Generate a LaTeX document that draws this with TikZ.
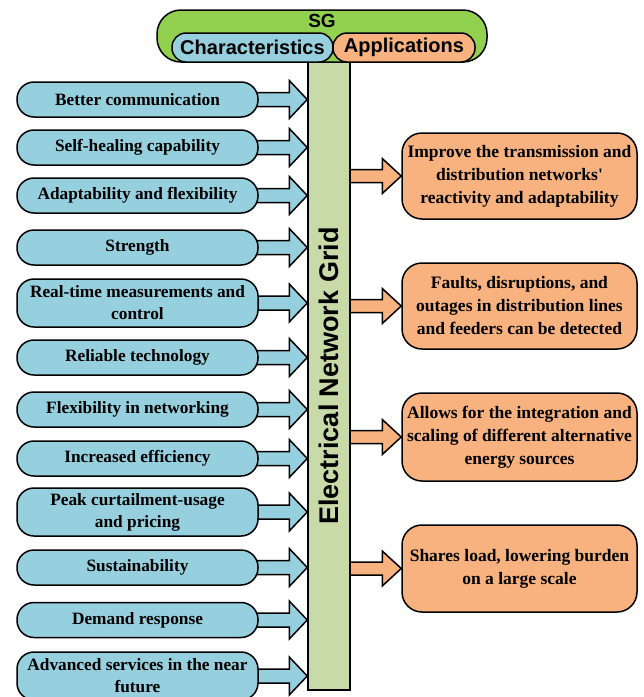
\documentclass[tikz,border=0pt]{standalone}
\usepackage{fontspec}
\setmainfont{Liberation Serif}
\setsansfont{Liberation Sans}
\usetikzlibrary{calc}
\pgfdeclarelayer{bg}
\pgfsetlayers{bg,main}
\definecolor{cblue}{HTML}{96CFDD}
\definecolor{corange}{HTML}{F7B27F}
\definecolor{cgreen}{HTML}{92D050}
\definecolor{cgrid}{HTML}{C8DAA8}
\begin{document}
\begin{tikzpicture}[x=1pt,y=-1pt,line width=1.5pt,
  lpill/.style={draw, fill=cblue, rounded corners=17pt, minimum width=241pt, inner sep=0pt, align=center,
    font=\bfseries\fontsize{17.3}{22}\selectfont},
  rbox/.style={draw, fill=corange, rounded corners=20pt, minimum width=235pt, inner sep=0pt, align=center,
    font=\bfseries\fontsize{17.5}{23}\selectfont},
  toppill/.style={draw, rounded corners=14pt, minimum height=29pt, inner sep=0pt,
    font=\sffamily\bfseries\fontsize{20}{20}\selectfont},
  larrow/.style={draw=black, line width=1.5pt, fill=cblue, line join=miter, to path={
    ($(\tikztostart)+(0,-7)$) -- ($(\tikztotarget)+(-18,-7)$) -- ($(\tikztotarget)+(-18,-19)$) --
    (\tikztotarget) -- ($(\tikztotarget)+(-18,19)$) -- ($(\tikztotarget)+(-18,7)$) --
    ($(\tikztostart)+(0,7)$) -- cycle}},
  rarrow/.style={draw=black, line width=1.5pt, fill=corange, line join=miter, to path={
    ($(\tikztostart)+(0,-6.5)$) -- ($(\tikztotarget)+(-19,-6.5)$) -- ($(\tikztotarget)+(-19,-17.5)$) --
    (\tikztotarget) -- ($(\tikztotarget)+(-19,17.5)$) -- ($(\tikztotarget)+(-19,6.5)$) --
    ($(\tikztostart)+(0,6.5)$) -- cycle}}
]
\useasboundingbox (0,0) rectangle (644,697);

% central grid
\node[draw, fill=cgrid, minimum width=42pt, minimum height=628pt, inner sep=0pt] (g) at (329,376) {};
\node[rotate=90, font=\sffamily\bfseries\fontsize{27}{27}\selectfont] (gtxt) at (g.center) {Electrical Network Grid};

% top title
\node[draw, fill=cgreen, rounded corners=24pt, minimum width=330pt, minimum height=52pt, inner sep=0pt] (sg) at (322,36) {};
\node[font=\sffamily\bfseries\fontsize{19}{20}\selectfont, inner sep=0pt] (sgt) at (322,21) {SG};
\node[toppill, fill=cblue, minimum width=161pt] (ch) at (252.5,47.5) {Characteristics};
\node[toppill, fill=corange, minimum width=142pt] (ap) at (404,47.5) {Applications};

% left characteristics
\node[lpill, minimum height=35pt] (c1) at (137.5,99.5) {Better communication};
\node[lpill, minimum height=35pt] (c2) at (137.5,147.5) {Self-healing capability};
\node[lpill, minimum height=35pt] (c3) at (137.5,195.5) {Adaptability and flexibility};
\node[lpill, minimum height=35pt] (c4) at (137.5,247.5) {Strength};
\node[lpill, minimum height=48pt] (c5) at (137.5,303) {Real-time measurements and\\control};
\node[lpill, minimum height=35pt] (c6) at (137.5,357.5) {Reliable technology};
\node[lpill, minimum height=35pt] (c7) at (137.5,409.5) {Flexibility in networking};
\node[lpill, minimum height=35pt] (c8) at (137.5,458.5) {Increased efficiency};
\node[lpill, minimum height=48pt] (c9) at (137.5,512) {Peak curtailment-usage\\and pricing};
\node[lpill, minimum height=35pt] (c10) at (137.5,567.5) {Sustainability};
\node[lpill, minimum height=35pt] (c11) at (137.5,620) {Demand response};
\node[lpill, minimum height=48pt] (c12) at (137.5,676) {Advanced services in the near\\future};

% right applications
\node[rbox, minimum height=86pt] (r1) at (519.5,176) {Improve the transmission and\\distribution networks\textquotesingle\\reactivity and adaptability};
\node[rbox, minimum height=86pt] (r2) at (519.5,306) {Faults, disruptions, and\\outages in distribution lines\\and feeders can be detected};
\node[rbox, minimum height=88pt] (r3) at (519.5,437) {Allows for the integration and\\scaling of different alternative\\energy sources};
\node[rbox, minimum height=87pt] (r4) at (519.5,568.5) {Shares load, lowering burden\\on a large scale};

\begin{pgfonlayer}{bg}
\foreach \i in {1,...,12} {
  \draw[larrow] (c\i.center) to (c\i.center -| g.west);
}
\foreach \i in {1,...,4} {
  \draw[rarrow] (g.center |- r\i.center) to (r\i.west);
}
\end{pgfonlayer}
\end{tikzpicture}
\end{document}
